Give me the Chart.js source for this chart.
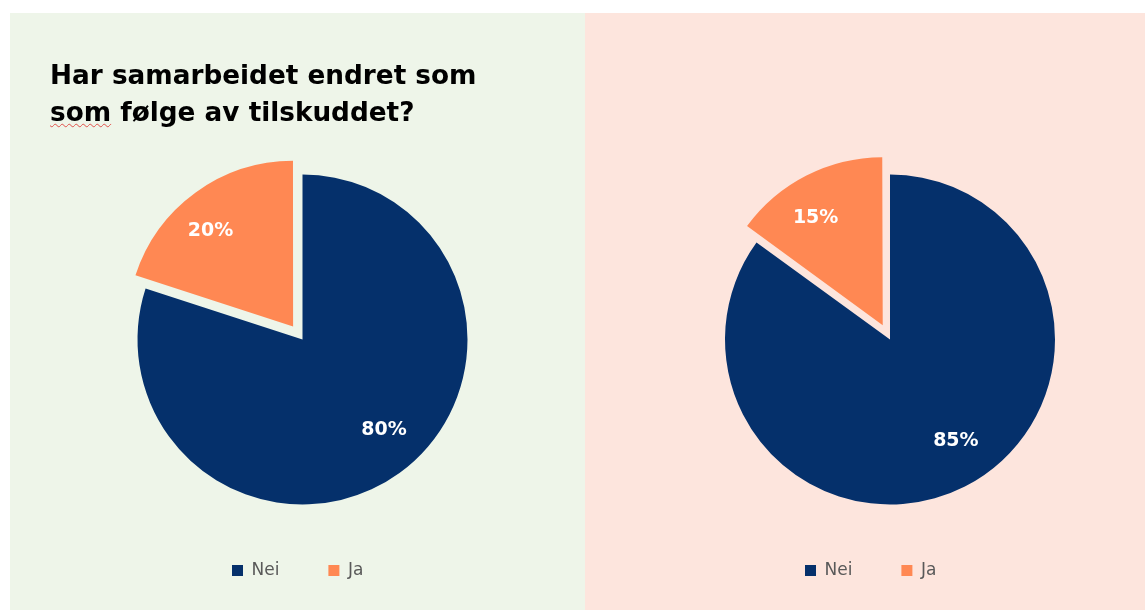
<!DOCTYPE html>
<html lang="no">
<head>
<meta charset="utf-8">
<title>Har samarbeidet endret som som følge av tilskuddet?</title>
<script src="https://cdn.jsdelivr.net/npm/chart.js@4/dist/chart.umd.min.js"></script>
<style>
    html, body {
        margin: 0;
        padding: 0;
        background: #ffffff;
        width: 1145px;
        height: 610px;
        overflow: hidden;
        font-family: "DejaVu Sans", Verdana, sans-serif;
    }
    .panel {
        position: absolute;
        top: 13px;
        height: 597px;
    }
    .panel canvas {
        position: absolute;
        left: 0;
        top: 0;
    }
    #leftPanel { left: 10px; width: 575px; background: #eef5e9; }
    #rightPanel { left: 585px; width: 560px; background: #fde5dd; }
    .chart-title {
        position: absolute;
        left: 40px;
        top: 44px;
        margin: 0;
        font-size: 26.3px;
        font-weight: bold;
        line-height: 37px;
        color: #000;
        z-index: 2;
    }
    .chart-title .spell {
        text-decoration: underline wavy #e0504a;
        text-decoration-thickness: 1px;
        text-underline-offset: 2px;
    }
</style>
</head>
<body>

<div class="panel" id="leftPanel">
    <h1 class="chart-title">Har samarbeidet endret som<br><span class="spell">som</span> følge av tilskuddet?</h1>
    <canvas id="leftChart" width="575" height="597"></canvas>
</div>
<div class="panel" id="rightPanel">
    <canvas id="rightChart" width="560" height="597"></canvas>
</div>

<script>
// Answers and shares (percent)
const categories = ['Nei', 'Ja'];
const leftValues = [80, 20];
const rightValues = [85, 15];

const sliceColors = [
    '#05306b',  // Nei - navy
    '#ff8853',  // Ja - orange
];
// Ja slice is pulled out of the pie
const sliceOffsets = [0, 64];

// White percentage labels inside each slice
const sliceLabels = {
    id: 'sliceLabels',
    afterDatasetsDraw(chart) {
        const ctx = chart.ctx;
        const meta = chart.getDatasetMeta(0);
        const values = chart.data.datasets[0].data;
        ctx.save();
        ctx.font = 'bold 19px "DejaVu Sans", Verdana, sans-serif';
        ctx.fillStyle = '#ffffff';
        ctx.textAlign = 'center';
        ctx.textBaseline = 'middle';
        meta.data.forEach((arc, i) => {
            const p = arc.getProps(['x', 'y', 'startAngle', 'endAngle', 'outerRadius'], true);
            // labels sit a little counter-clockwise of the slice middle
            const mid = (p.startAngle + p.endAngle) / 2 - 0.09;
            const shift = (arc.options.offset || 0) / 4;
            const r = p.outerRadius * 0.75 + shift;
            ctx.fillText(values[i] + '%', p.x + Math.cos(mid) * r, p.y + Math.sin(mid) * r - 3);
        });
        ctx.restore();
    }
};

function makePie(canvasId, values, padding) {
    const ctx = document.getElementById(canvasId).getContext('2d');
    return new Chart(ctx, {
        type: 'pie',
        data: {
            labels: categories,
            datasets: [{
                data: values,
                backgroundColor: sliceColors,
                borderWidth: 0,
                offset: sliceOffsets,
                clip: false,
            }],
        },
        options: {
            responsive: false,
            animation: false,
            events: [],
            radius: 165,
            layout: {
                padding: padding
            },
            plugins: {
                legend: {
                    position: 'bottom',
                    align: 'start',
                    labels: {
                        color: '#595959',
                        boxWidth: 11,
                        boxHeight: 11,
                        padding: 49,
                        font: {
                            family: '"DejaVu Sans", Verdana, sans-serif',
                            size: 17
                        }
                    }
                },
                tooltip: {
                    enabled: false
                }
            }
        },
        plugins: [sliceLabels]
    });
}

const leftChart = makePie('leftChart', leftValues, { left: 173, right: 163, top: 153, bottom: 21 });
const rightChart = makePie('rightChart', rightValues, { left: 171, right: 121, top: 153, bottom: 21 });
</script>
</body>
</html>
